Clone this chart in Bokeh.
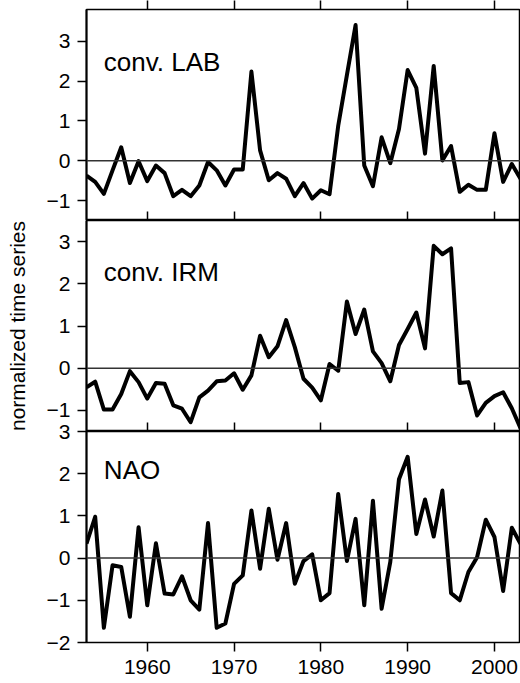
from bokeh.plotting import figure
from bokeh.models import Range1d, FixedTicker, LinearAxis, Span, Label
from bokeh.layouts import column
from bokeh.embed import file_html
from bokeh.resources import INLINE

# ---------------- data ----------------
years = [1953, 1954, 1955, 1956, 1957, 1958, 1959, 1960, 1961, 1962,
         1963, 1964, 1965, 1966, 1967, 1968, 1969, 1970, 1971, 1972,
         1973, 1974, 1975, 1976, 1977, 1978, 1979, 1980, 1981, 1982,
         1983, 1984, 1985, 1986, 1987, 1988, 1989, 1990, 1991, 1992,
         1993, 1994, 1995, 1996, 1997, 1998, 1999, 2000, 2001, 2002,
         2003]

conv_lab = [-0.37, -0.53, -0.83, -0.24, 0.34, -0.56, -0.01, -0.51, -0.12, -0.31,
            -0.89, -0.73, -0.89, -0.62, -0.03, -0.24, -0.62, -0.22, -0.22, 2.24,
            0.26, -0.49, -0.31, -0.45, -0.89, -0.56, -0.95, -0.74, -0.84, 0.88,
            2.15, 3.41, -0.12, -0.64, 0.59, -0.06, 0.80, 2.28, 1.83, 0.18,
            2.38, 0.01, 0.37, -0.78, -0.60, -0.73, -0.73, 0.69, -0.53, -0.08,
            -0.45]

conv_irm = [-0.45, -0.32, -0.98, -0.98, -0.61, -0.07, -0.33, -0.72, -0.35, -0.37,
            -0.88, -0.96, -1.28, -0.69, -0.53, -0.31, -0.29, -0.12, -0.51, -0.17,
            0.77, 0.26, 0.52, 1.14, 0.50, -0.25, -0.46, -0.76, 0.10, -0.06,
            1.58, 0.81, 1.39, 0.40, 0.12, -0.31, 0.55, 0.93, 1.32, 0.47,
            2.90, 2.70, 2.84, -0.35, -0.33, -1.12, -0.82, -0.66, -0.57, -0.95,
            -1.42]

nao = [0.34, 0.98, -1.65, -0.17, -0.21, -1.39, 0.73, -1.12, 0.35, -0.84,
       -0.86, -0.43, -1.00, -1.22, 0.83, -1.65, -1.55, -0.61, -0.41, 1.13,
       -0.25, 1.17, -0.04, 0.83, -0.61, -0.07, 0.09, -1.00, -0.83, 1.52,
       -0.07, 0.93, -1.12, 1.36, -1.20, -0.09, 1.87, 2.40, 0.57, 1.39,
       0.51, 1.60, -0.83, -1.00, -0.33, 0.02, 0.91, 0.50, -0.78, 0.72,
       0.34]

x_ticks = [1960, 1970, 1980, 1990, 2000]
x_tick_labels = ["1960", "1970", "1980", "1990", "2000"]

lab_ticks = [-1, 0, 1, 2, 3]
lab_tick_labels = ["\u22121", "0", "1", "2", "3"]
irm_ticks = [-1, 0, 1, 2, 3]
irm_tick_labels = ["\u22121", "0", "1", "2", "3"]
nao_ticks = [-2, -1, 0, 1, 2, 3]
nao_tick_labels = ["\u22122", "\u22121", "0", "1", "2", "3"]

panel_titles = ["conv. LAB", "conv. IRM", "NAO"]
y_axis_title = "normalized time series"

# ---------------- styling ----------------
FONT = "Liberation Sans"
W = 520
LEFT = 86
PANEL_H = 211
TICK_FS = "21px"


def tick_only_axis(inward):
    """x axis that draws only tick marks (no line, no labels)."""
    return LinearAxis(ticker=FixedTicker(ticks=x_ticks),
                      axis_line_color=None,
                      major_tick_out=0 if inward else 9,
                      major_tick_in=9 if inward else 0,
                      major_tick_line_color="black", major_tick_line_width=1.5,
                      minor_tick_line_color=None,
                      major_label_standoff=0,
                      major_label_text_font_size="0px",
                      major_label_text_color=None)


def make_panel(vals, y_lo, y_hi, yticks, ylabels, title, title_y,
               top_border, bottom_border, height, first=False, last=False,
               ylabel=None, **kw):
    p = figure(width=W, height=height,
               x_range=Range1d(years[0], years[-1]), y_range=Range1d(y_lo, y_hi),
               output_backend="svg", toolbar_location=None,
               x_axis_location=None, y_axis_location=None,
               min_border_left=LEFT, min_border_right=0,
               min_border_top=top_border, min_border_bottom=bottom_border,
               background_fill_color="white", **kw)
    p.xgrid.visible = False
    p.ygrid.visible = False
    p.outline_line_color = "black"
    p.outline_line_width = 1.5

    ya = LinearAxis(ticker=FixedTicker(ticks=yticks),
                    major_label_overrides={float(t): l for t, l in zip(yticks, ylabels)},
                    axis_line_color="black", axis_line_width=2,
                    major_tick_out=9, major_tick_in=0,
                    major_tick_line_color="black", major_tick_line_width=1.5,
                    minor_tick_line_color=None,
                    major_label_standoff=7,
                    major_label_text_font=FONT, major_label_text_font_size=TICK_FS,
                    major_label_text_color="black")
    if ylabel:
        ya.axis_label = ylabel
        ya.axis_label_text_font = FONT
        ya.axis_label_text_font_size = "21px"
        ya.axis_label_text_font_style = "normal"
        ya.axis_label_text_color = "black"
        ya.axis_label_standoff = 15
    p.add_layout(ya, "left")

    if first:
        p.add_layout(tick_only_axis(inward=False), "above")

    if last:
        xa = LinearAxis(ticker=FixedTicker(ticks=x_ticks),
                        major_label_overrides={float(t): l for t, l in zip(x_ticks, x_tick_labels)},
                        axis_line_color=None,
                        major_tick_out=9, major_tick_in=0,
                        major_tick_line_color="black", major_tick_line_width=1.5,
                        minor_tick_line_color=None,
                        major_label_standoff=8,
                        major_label_text_font=FONT, major_label_text_font_size=TICK_FS,
                        major_label_text_color="black")
    else:
        xa = tick_only_axis(inward=True)
    p.add_layout(xa, "below")

    p.add_layout(Span(location=0, dimension="width", line_color="#333333", line_width=1.5))
    p.line(years, vals, line_color="black", line_width=4, line_join="round")
    p.add_layout(Label(x=1955, y=title_y, text=title, text_font=FONT,
                       text_font_size="26px", text_color="black",
                       text_baseline="alphabetic", text_align="left"))
    return p


p1 = make_panel(conv_lab, -1.5, 3.8, lab_ticks, lab_tick_labels, panel_titles[0], 2.47,
                top_border=9, bottom_border=0, height=PANEL_H + 9, first=True)
p2 = make_panel(conv_irm, -1.5, 3.5, irm_ticks, irm_tick_labels, panel_titles[1], 2.27,
                top_border=0, bottom_border=0, height=PANEL_H, ylabel=y_axis_title)
p3 = make_panel(nao, -2, 3, nao_ticks, nao_tick_labels, panel_titles[2], 2.08,
                top_border=10, bottom_border=41, height=PANEL_H + 10 + 41, last=True,
                margin=(-10, 0, 0, 0), border_fill_color=None)

layout = column(p1, p2, p3, spacing=0)

open("out.html", "w").write(file_html(layout, INLINE))
